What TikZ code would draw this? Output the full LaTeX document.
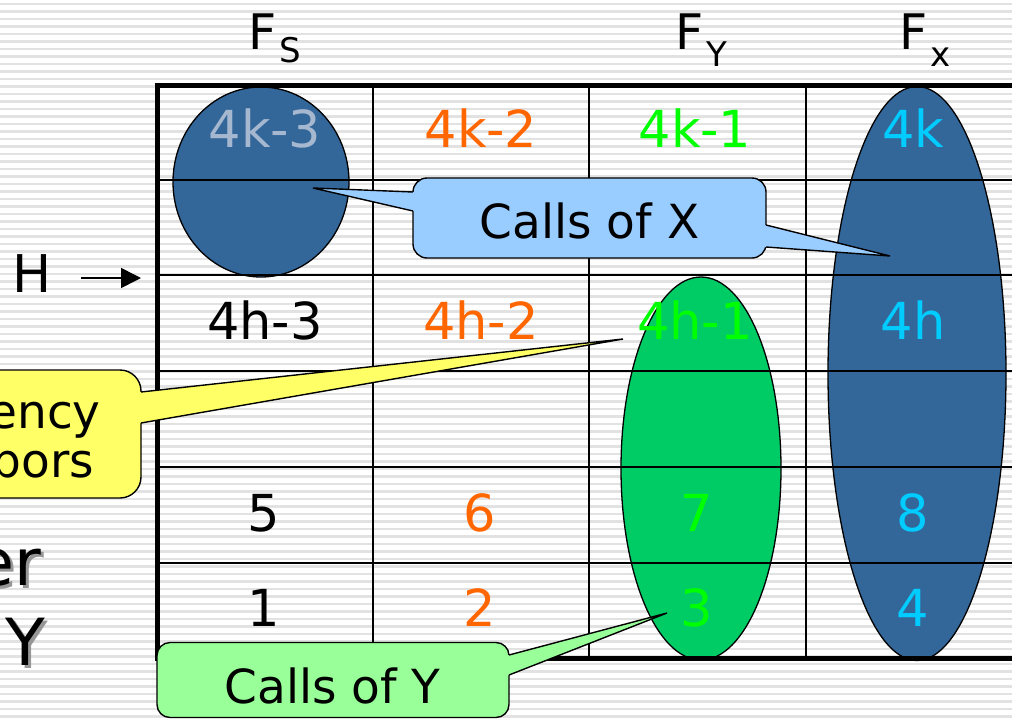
\documentclass[tikz,border=0pt]{standalone}
\usepackage{fontspec}
\setmainfont{DejaVu Sans}
\usetikzlibrary{arrows.meta,shapes.geometric}
\definecolor{dblue}{RGB}{51,102,153}
\definecolor{egreen}{RGB}{0,204,102}
\definecolor{lblue}{RGB}{153,204,255}
\definecolor{lgreen}{RGB}{153,255,153}
\definecolor{lyellow}{RGB}{255,255,102}
\definecolor{corange}{RGB}{255,102,0}
\definecolor{cgreen}{RGB}{0,255,0}
\definecolor{ccyan}{RGB}{0,204,255}
\definecolor{cgreyblue}{RGB}{166,184,208}
\definecolor{stripec}{RGB}{226,226,226}
\definecolor{shadowc}{RGB}{150,150,150}
\newcommand{\shadowtext}[1]{\makebox[0pt][l]{\hspace{3pt}\raisebox{-3pt}{\textcolor{shadowc}{#1}}}#1}
\begin{document}
\begin{tikzpicture}[x=1pt,y=-1pt,
  stripeline/.style={draw=stripec,line width=2.4pt},
  oval/.style={ellipse,draw=black,line width=1.3pt,inner sep=0pt},
  thinrule/.style={draw=black,line width=2.2pt},
  thickrule/.style={draw=black,line width=5pt},
  num/.style={font=\fontsize{51pt}{51pt}\selectfont,anchor=base,inner sep=0pt},
  calltext/.style={font=\fontsize{47pt}{47pt}\selectfont,anchor=base,inner sep=0pt,text=black},
  callbox/.style={draw=black,line width=1.4pt,rounded corners=14pt,inner sep=0pt},
  calledge/.style={draw=black,line width=1.4pt},
  bigF/.style={font=\fontsize{49pt}{49pt}\selectfont,anchor=base,inner sep=0pt},
  subF/.style={font=\fontsize{34pt}{34pt}\selectfont,anchor=base,inner sep=0pt},
  bigtxt/.style={font=\fontsize{65pt}{65pt}\selectfont,inner sep=0pt}
]
\useasboundingbox (0,0) rectangle (1012,718);
\clip (0,0) rectangle (1012,718);
\fill[white] (0,0) rectangle (1012,718);
\foreach \yy in {4,11.5,...,718} \draw[stripeline] (0,\yy) -- (1012,\yy);

% ellipses
\node[oval,fill=dblue,minimum width=176pt,minimum height=190pt] (es) at (261,182) {};
\node[oval,fill=dblue,minimum width=178pt,minimum height=574pt] (ex) at (917,373.5) {};
\node[oval,fill=egreen,minimum width=160pt,minimum height=383pt] (ey) at (701,468.5) {};

% grid
\foreach \xx in {373,589,806} \draw[thinrule] (\xx,85) -- (\xx,658);
\foreach \yy in {180,275,371,467,563} \draw[thinrule] (157,\yy) -- (1012,\yy);
\draw[thickrule] (157,82.5) -- (157,660.5);
\draw[thickrule] (154.5,85) -- (1012,85);
\draw[thickrule] (154.5,658) -- (1012,658);

% cell texts
\node[num,text=cgreyblue] (k3) at (265,147) {4k-3};
\node[num,text=corange] (k2) at (481,147) {4k-2};
\node[num,text=cgreen] (k1) at (695,147) {4k-1};
\node[num,text=ccyan] (k0) at (913,147) {4k};
\node[num,text=black] (h3) at (265,339) {4h-3};
\node[num,text=corange] (h2) at (481,339) {4h-2};
\node[num,text=cgreen] (h1) at (695,339) {4h-1};
\node[num,text=ccyan] (h0) at (913,339) {4h};
\node[num,text=black] (n5) at (264,531) {5};
\node[num,text=corange] (n6) at (480,531) {6};
\node[num,text=cgreen] (n7) at (697,531) {7};
\node[num,text=ccyan] (n8) at (913,531) {8};
\node[num,text=black] (n1) at (264,626) {1};
\node[num,text=corange] (n2) at (480,626) {2};
\node[num,text=cgreen] (n3) at (697,626) {3};
\node[num,text=ccyan] (n4) at (913,626) {4};

% headers
\node[bigF] (fs) at (263,49) {F};
\node[subF] (fss) at (290,62) {S};
\node[bigF] (fy) at (689.5,49) {F};
\node[subF] (fyy) at (716.5,66) {Y};
\node[bigF] (fx) at (914,49) {F};
\node[subF] (fxx) at (940.5,66) {x};

% H arrow
\node[font=\fontsize{52pt}{52pt}\selectfont,anchor=base,inner sep=0pt] (H) at (32.5,292) {H};
\coordinate (hend) at (141,278);
\draw[line width=1.6pt,-{Triangle[length=20pt,width=20pt]}] ([xshift=29pt]H.east |- hend) -- (hend);

% left big texts with shadow
\node[bigtxt,anchor=base east] (er) at (41,585) {\shadowtext{er}};
\node[bigtxt,anchor=base] (yy) at (25,665) {\shadowtext{Y}};

% yellow callout
\coordinate (tipA) at (623,339);
\node[callbox,rounded corners=21pt,fill=lyellow,minimum width=260pt,minimum height=128pt] (ba) at (11,434) {};
\fill[lyellow] (135,392) -- (141,392) -- (tipA) -- (141,423) -- (135,423) -- cycle;
\draw[calledge] (141,392) -- (tipA) -- (141,423);
\node[calltext,anchor=base east] (ta1) at (101,428) {ency};
\node[calltext,anchor=base east] (ta2) at (94,477) {bors};

% blue callout
\coordinate (tipXs) at (313,188);
\coordinate (tipXx) at (890,256);
\node[callbox,fill=lblue,minimum width=353pt,minimum height=80pt] (bx) at (589.5,218) {};
\fill[lblue] (420,192) -- (413,192) -- (tipXs) -- (413,211) -- (420,211) -- cycle;
\draw[calledge] (413,192) -- (tipXs) -- (413,211);
\fill[lblue] (759,225) -- (766,225) -- (tipXx) -- (766,247) -- (759,247) -- cycle;
\draw[calledge] (766,225) -- (tipXx) -- (766,247);
\node[calltext] (tx) at (589.5,238) {Calls of X};

% green callout
\coordinate (tipY) at (667,613);
\node[callbox,rounded corners=13pt,fill=lgreen,minimum width=352pt,minimum height=75pt] (by) at (333,680) {};
\fill[lgreen] (502,655) -- (509,655) -- (tipY) -- (509,675) -- (502,675) -- cycle;
\draw[calledge] (509,655) -- (tipY) -- (509,675);
\node[calltext] (ty) at (332.5,703) {Calls of Y};
\end{tikzpicture}
\end{document}
